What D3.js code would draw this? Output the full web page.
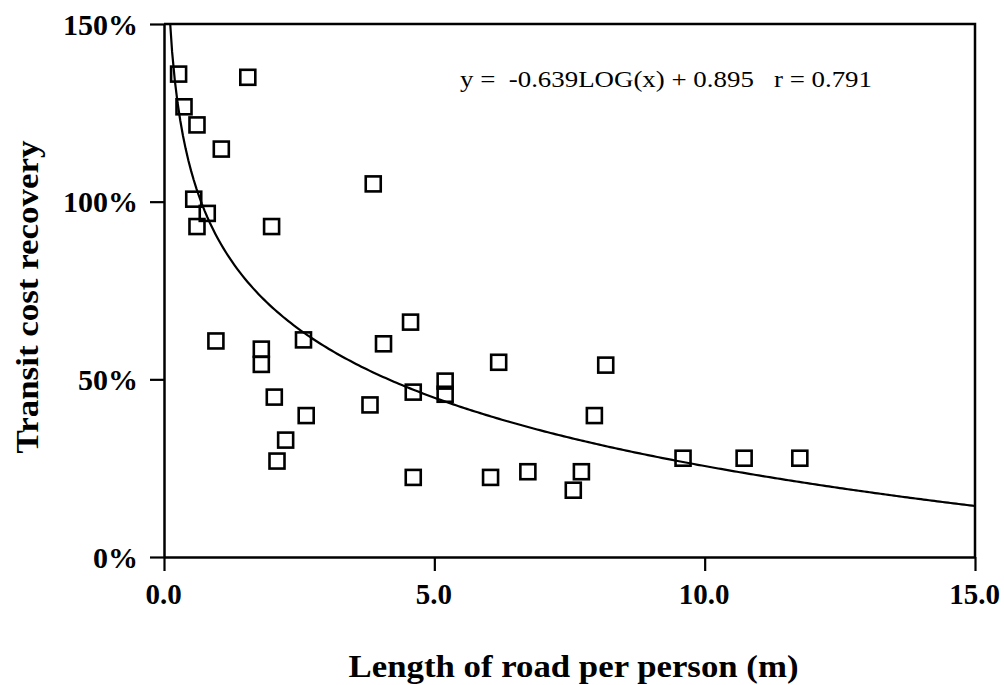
<!DOCTYPE html>
<html>
<head>
<meta charset="utf-8">
<script src="https://cdn.jsdelivr.net/npm/d3@7"></script>
<style>
  body { margin: 0; background: #fff; }
  text { font-family: "Liberation Serif", "Times New Roman", serif; fill: #000; }
</style>
</head>
<body>
<svg id="chart"></svg>
<script>
// data
const roadLength = [0.27, 0.37, 0.61, 1.06, 1.55, 0.55, 0.80, 0.61, 1.99, 3.87,
                    0.96, 1.80, 1.80, 2.58, 2.04, 2.63, 2.25, 2.09, 4.06, 4.56,
                    3.81, 4.61, 5.20, 5.20, 4.61, 6.19, 6.04, 6.73, 7.72, 7.57,
                    8.17, 7.96, 9.60, 10.73, 11.76];
const costRecovery = [135.9, 126.7, 121.6, 114.8, 135.0, 100.7, 96.7, 93.0, 93.0, 105.0,
                      60.8, 58.5, 54.2, 61.1, 45.0, 39.8, 32.9, 27.0, 60.0, 66.1,
                      42.8, 46.4, 49.5, 45.8, 22.4, 54.8, 22.4, 24.0, 24.0, 18.8,
                      54.0, 39.8, 27.8, 27.8, 27.8];
const xTicks = [0, 5, 10, 15];
const yTicks = [0, 50, 100, 150];
// trendline given on the chart: y = -0.639LOG(x) + 0.895
const fitSlope = -0.639;
const fitIntercept = 0.895;
const fitR = 0.791;

const width = 1004;
const height = 685;
const margin = { left: 164, right: 29, top: 24, bottom: 128 };

const svg = d3.select('svg#chart').attr('width', width).attr('height', height);

const x = d3.scaleLinear().domain([0, 15]).range([margin.left, width - margin.right]);
const y = d3.scaleLinear().domain([0, 150]).range([height - margin.bottom, margin.top]);

// frame (top + right)
svg.append('path')
    .attr('d', 'M' + x(0) + ',' + y(150) + 'H' + x(15) + 'V' + y(0))
    .attr('fill', 'none')
    .attr('stroke', '#000')
    .attr('stroke-width', 2.5);

// axes
const xAxis = svg.append('g')
    .attr('transform', 'translate(0,' + y(0) + ')')
    .call(d3.axisBottom(x).tickValues(xTicks).tickSize(14).tickSizeOuter(0).tickFormat(d3.format('.1f')));
const yAxis = svg.append('g')
    .attr('transform', 'translate(' + x(0) + ',0)')
    .call(d3.axisLeft(y).tickValues(yTicks).tickSize(14).tickSizeOuter(0).tickFormat(d => d + '%'));

[xAxis, yAxis].forEach(g => {
    g.attr('font-size', null).attr('font-family', null);
    g.select('.domain').attr('stroke', '#000').attr('stroke-width', 2.5);
    g.selectAll('.tick line').attr('stroke', '#000').attr('stroke-width', 2.2);
    g.selectAll('.tick text')
        .attr('fill', '#000')
        .style('font-weight', 'bold');
});
xAxis.selectAll('.tick text').attr('y', 0).attr('dy', 0)
    .attr('transform', 'translate(-1,47)')
    .style('font-size', '29px');
yAxis.selectAll('.tick text').attr('x', -26).attr('dy', 0)
    .attr('transform', 'translate(0,10)')
    .style('font-size', '30px');

// trendline
svg.append('clipPath').attr('id', 'plot-clip')
    .append('rect')
    .attr('x', x(0)).attr('y', y(150))
    .attr('width', x(15) - x(0)).attr('height', y(0) - y(150));

const curveX = d3.range(0.1, 15.001, 0.05);
const line = d3.line()
    .x(d => x(d))
    .y(d => y(100 * (fitSlope * Math.log10(d) + fitIntercept)));

svg.append('path')
    .datum(curveX)
    .attr('clip-path', 'url(#plot-clip)')
    .attr('d', line)
    .attr('fill', 'none')
    .attr('stroke', '#000')
    .attr('stroke-width', 2.2);

// markers
const s = 15;
svg.append('g')
    .selectAll('rect')
    .data(roadLength.map((v, i) => [v, costRecovery[i]]))
    .enter().append('rect')
    .attr('x', d => x(d[0]) - s / 2)
    .attr('y', d => y(d[1]) - s / 2)
    .attr('width', s)
    .attr('height', s)
    .attr('fill', 'none')
    .attr('stroke', '#000')
    .attr('stroke-width', 2.6);

// equation
svg.append('text')
    .attr('x', 460)
    .attr('y', 87)
    .attr('textLength', 412)
    .attr('lengthAdjust', 'spacingAndGlyphs')
    .style('font-size', '24px')
    .style('white-space', 'pre')
    .text('y =  ' + fitSlope + 'LOG(x) + ' + fitIntercept + '   r = ' + fitR);

// axis titles
svg.append('text')
    .attr('x', (x(0) + x(15)) / 2 + 4)
    .attr('y', 677)
    .attr('text-anchor', 'middle')
    .attr('textLength', 450)
    .attr('lengthAdjust', 'spacingAndGlyphs')
    .style('font-size', '32px')
    .style('font-weight', 'bold')
    .text('Length of road per person (m)');

svg.append('text')
    .attr('transform', 'translate(38,' + 297 + ') rotate(-90)')
    .attr('text-anchor', 'middle')
    .attr('textLength', 313)
    .attr('lengthAdjust', 'spacingAndGlyphs')
    .style('font-size', '32px')
    .style('font-weight', 'bold')
    .text('Transit cost recovery');
</script>
</body>
</html>
